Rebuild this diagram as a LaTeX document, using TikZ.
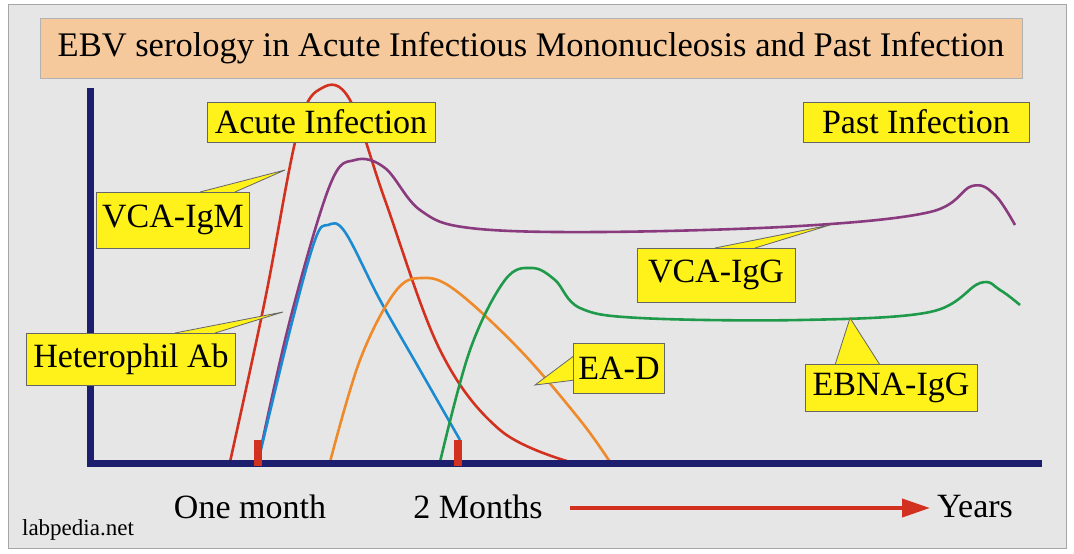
\documentclass[tikz,border=0pt]{standalone}
\usepackage{fontspec}
\setmainfont{Liberation Serif}
\usetikzlibrary{arrows.meta}
\definecolor{bg}{HTML}{E6E6E6}
\definecolor{ttl}{HTML}{F6C99C}
\definecolor{navy}{HTML}{1E1E6E}
\definecolor{cred}{HTML}{D3311F}
\definecolor{cpur}{HTML}{8A3A7E}
\definecolor{cblu}{HTML}{1C8AD0}
\definecolor{cora}{HTML}{EE8A2A}
\definecolor{cgrn}{HTML}{1F9A4A}
\definecolor{yel}{HTML}{FFF21A}
\tikzset{
 callout/.style={fill=yel,draw=gray!80!black,line width=0.8pt,inner sep=3pt,font=\fontsize{34}{36}\selectfont},
 ptr/.style={fill=yel,draw=gray!80!black,line width=0.8pt},
 curve/.style={line width=2.6pt,line join=round},
 lab/.style={font=\fontsize{34}{36}\selectfont}
}
\begin{document}
\begin{tikzpicture}[x=1pt,y=-1pt]
\useasboundingbox (0,0) rectangle (1074,554);
\fill[white] (0,0) rectangle (1074,554);
\draw[fill=bg,draw=gray!70] (8,4) rectangle (1066,548);
\node[fill=ttl,draw=gray!60,minimum width=982pt,minimum height=60pt,inner sep=2pt,font=\fontsize{34.5}{36}\selectfont] (title) at (531,48) {EBV serology in Acute Infectious Mononucleosis and Past Infection};
% curves
\draw[curve,cred] plot[smooth,tension=0.6] coordinates {(230,462) (265,300) (298,130) (322,88) (350,100) (385,200) (440,350) (500,430) (570,462)};
\draw[curve,cpur] plot[smooth,tension=0.6] coordinates {(258,462) (290,320) (330,185) (355,160) (385,168) (420,210) (470,228) (600,232) (800,226) (930,212) (972,186) (995,195) (1015,225)};
\draw[curve,cblu] plot[smooth,tension=0.6] coordinates {(258,462) (290,330) (315,240) (328,225) (345,232) (380,300) (420,370) (460,440)};
\draw[curve,cora] plot[smooth,tension=0.6] coordinates {(330,462) (360,360) (395,292) (422,278) (455,290) (520,350) (580,420) (610,462)};
\draw[curve,cgrn] plot[smooth,tension=0.6] coordinates {(440,462) (470,350) (505,280) (532,268) (555,280) (580,308) (640,318) (800,320) (930,312) (980,283) (1000,290) (1020,305)};
% axes
\draw[navy,line width=7pt] (90,88) -- (90,463) -- (1042,463);
\fill[cred] (254,440) rectangle (262,466);
\fill[cred] (454,440) rectangle (462,466);
% callouts
\node[callout,minimum width=228pt,minimum height=40pt] (acute) at (321,122) {Acute Infection};
\node[callout,minimum width=226pt,minimum height=40pt] (past) at (916,122) {Past Infection};
\coordinate (t1) at (285,170);
\draw[ptr] (200,192) -- (t1) -- (235,192);
\node[callout,minimum width=153pt,minimum height=56pt] (igm) at (173,220) {VCA-IgM};
\coordinate (t2) at (283,312);
\draw[ptr] (175,333) -- (t2) -- (215,333);
\node[callout,minimum width=209pt,minimum height=52pt] (het) at (131,359) {Heterophil Ab};
\coordinate (t3) at (830,225);
\draw[ptr] (715,248) -- (t3) -- (755,248);
\node[callout,minimum width=158pt,minimum height=54pt] (igg) at (716,275) {VCA-IgG};
\coordinate (t4) at (535,385);
\draw[ptr] (575,355) -- (t4) -- (575,380);
\node[callout,minimum width=91pt,minimum height=50pt] (ead) at (619,368) {EA-D};
\coordinate (t5) at (850,318);
\draw[ptr] (835,365) -- (t5) -- (880,365);
\node[callout,minimum width=172pt,minimum height=47pt] (ebna) at (891,388) {EBNA-IgG};
% bottom labels
\node[lab] (m1) at (250,507) {One month};
\node[lab] (m2) at (478,507) {2 Months};
\node[lab] (yr) at (975,507) {Years};
\draw[cred,line width=4pt,-{Triangle[length=28pt,width=18pt]}] (570,508) -- (930,508);
\node[font=\fontsize{23}{25}\selectfont] (lp) at (78,530) {labpedia.net};
\end{tikzpicture}
\end{document}
